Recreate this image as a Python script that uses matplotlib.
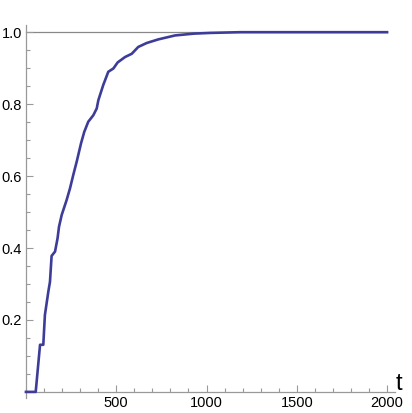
"""Saturation curve in the Mathematica plot style, redrawn with matplotlib."""

import matplotlib

matplotlib.use("Agg")

import matplotlib.pyplot as plt  # noqa: E402
from matplotlib.ticker import MultipleLocator  # noqa: E402

# values
t = [0, 54, 78, 96, 105, 124, 133, 142, 161, 175, 183, 198, 225, 244, 262,
     281, 305, 323, 345, 373, 392, 401, 428, 456, 484, 508, 549, 586, 622,
     669, 733, 826, 930, 1020, 1186, 1500, 2000]
v = [0.0, 0.0, 0.131, 0.131, 0.214, 0.279, 0.306, 0.378, 0.390, 0.427, 0.459,
     0.492, 0.533, 0.566, 0.603, 0.640, 0.691, 0.723, 0.751, 0.769, 0.788,
     0.811, 0.853, 0.890, 0.899, 0.916, 0.931, 0.940, 0.959, 0.970, 0.980,
     0.991, 0.996, 0.998, 1.0, 1.0, 1.0]
x_ticks = [500, 1000, 1500, 2000]
y_ticks = [0.2, 0.4, 0.6, 0.8, 1.0]

LINE = (0.24, 0.24, 0.6)
AXIS = "#999999"

plt.rcParams["font.family"] = ["Liberation Sans", "DejaVu Sans"]

fig = plt.figure(figsize=(4.12, 4.13), dpi=100)
# axes box in pixels: x 20..395, y 25..398 (from top)
W, H = 412, 413
ax = fig.add_axes([20 / W, (H - 398) / H, (395 - 20) / W, (398 - 25) / H])
ax.set_xlim(-33, 2044)
ax.set_ylim(-0.017, 1.02)

ax.plot([0, 2000], [1.0, 1.0], color="#888888", lw=0.9, zorder=1)
ax.plot(t, v, color=LINE, lw=1.9, solid_joinstyle="round", zorder=3)

for side in ("top", "right"):
    ax.spines[side].set_visible(False)
for side in ("left", "bottom"):
    ax.spines[side].set_position(("data", 0))
    ax.spines[side].set_color(AXIS)
    ax.spines[side].set_linewidth(0.9)
ax.spines["bottom"].set_bounds(-8, 2044)

ax.set_xticks(x_ticks)
ax.set_yticks(y_ticks)
ax.set_yticklabels([f"{y:.1f}" for y in y_ticks])
ax.xaxis.set_minor_locator(MultipleLocator(100))
ax.yaxis.set_minor_locator(MultipleLocator(0.05))
ax.tick_params(which="both", direction="in", color=AXIS, width=0.8,
               labelsize=10.5, labelcolor="black")
ax.tick_params(which="major", length=5, pad=3)
ax.tick_params(which="minor", length=3)

ax.text(2050, -0.008, "t", fontsize=17, ha="left", va="bottom")

fig.savefig("out.png", dpi=100)
